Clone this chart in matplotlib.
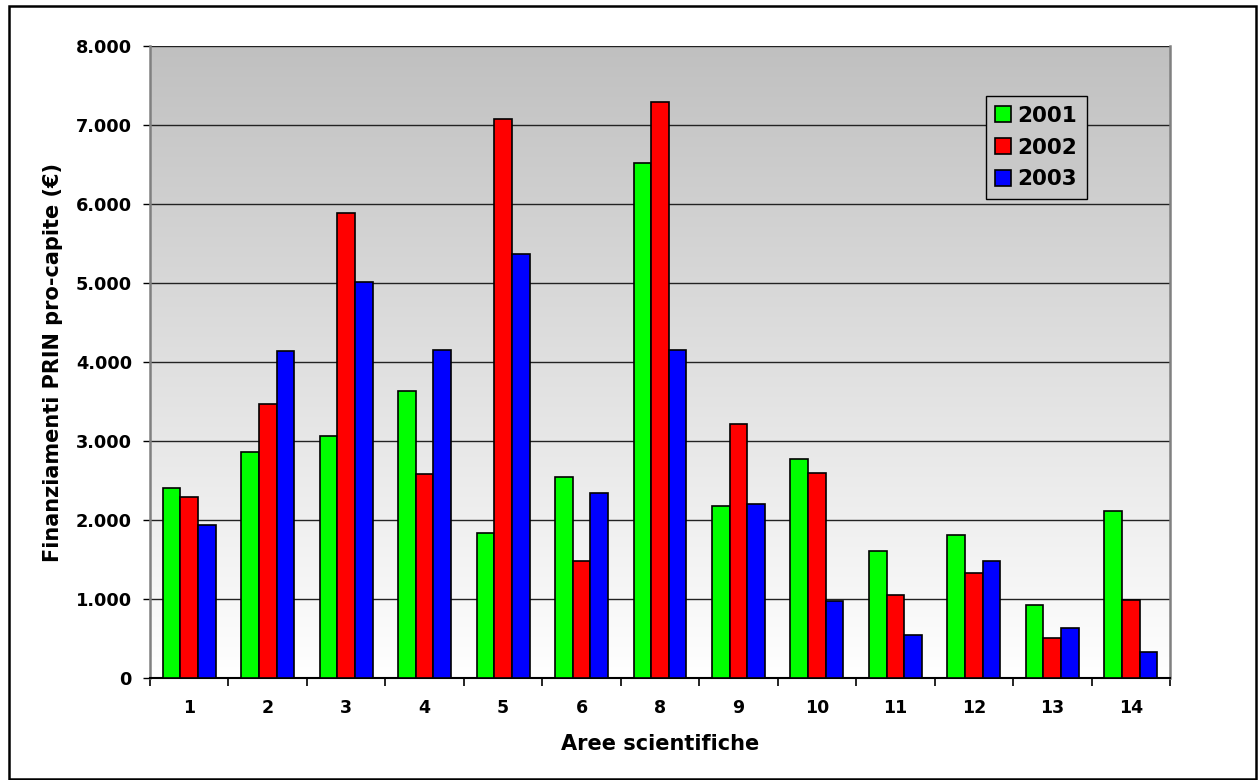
import numpy as np
import matplotlib
matplotlib.use("Agg")
import matplotlib.pyplot as plt
from matplotlib.patches import Rectangle
from matplotlib.colors import LinearSegmentedColormap

# Per-capita PRIN funding by scientific area
areas = ["1", "2", "3", "4", "5", "6", "8", "9", "10", "11", "12", "13", "14"]
fund_2001 = [2400, 2856, 3068, 3637, 1832, 2546, 6525, 2178, 2773, 1604, 1807, 926, 2110]
fund_2002 = [2287, 3472, 5889, 2583, 7074, 1476, 7285, 3214, 2596, 1052, 1335, 504, 993]
fund_2003 = [1933, 4139, 5016, 4155, 5370, 2338, 4153, 2197, 977, 550, 1478, 635, 327]
years = ["2001", "2002", "2003"]
colors = ["#00FF00", "#FF0000", "#0000FF"]
y_ticks = [0, 1000, 2000, 3000, 4000, 5000, 6000, 7000, 8000]
y_ticklabels = ["0", "1.000", "2.000", "3.000", "4.000", "5.000", "6.000", "7.000", "8.000"]

W, H = 1258, 780
fig = plt.figure(figsize=(W / 100, H / 100), dpi=100)
fig.patch.set_facecolor("white")

ax = fig.add_axes([150 / W, 1 - 678 / H, (1170 - 150) / W, (678 - 46) / H])

n = len(areas)
x = np.arange(n)
ymax = 8000

# gradient background: grey at the top fading to white at the base
cmap = LinearSegmentedColormap.from_list("bg", ["#FFFFFF", "#C0C0C0"])
grad = np.linspace(0, 1, 256).reshape(-1, 1)
ax.imshow(grad, cmap=cmap, aspect="auto", origin="lower",
          extent=[-0.5, n - 0.5, 0, ymax], zorder=0)

# horizontal gridlines
for t in y_ticks[1:]:
    ax.axhline(t, color="#222222", lw=1.0, zorder=1)

bw = 0.225
series = [fund_2001, fund_2002, fund_2003]
for i, (vals, c, lab) in enumerate(zip(series, colors, years)):
    ax.bar(x + (i - 1) * bw, vals, width=bw, color=c, edgecolor="black",
           linewidth=1.2, label=lab, zorder=3)

ax.set_xlim(-0.5, n - 0.5)
ax.set_ylim(0, ymax)

ax.set_yticks(y_ticks)
ax.set_yticklabels(y_ticklabels, fontsize=12.8, fontweight="bold")
ax.set_xticks(x)
ax.set_xticklabels(areas, fontsize=12.5, fontweight="bold")
ax.tick_params(axis="x", which="major", length=0, pad=15)
ax.set_xticks(np.arange(-0.5, n, 1.0), minor=True)
ax.tick_params(axis="x", which="minor", length=6, direction="out", width=1.2)
ax.tick_params(axis="y", length=5, direction="out", width=1.0, pad=8)

for s in ["left", "right", "top"]:
    ax.spines[s].set_color("#808080")
    ax.spines[s].set_linewidth(1.8)
ax.spines["top"].set_visible(False)
ax.spines["bottom"].set_color("black")
ax.spines["bottom"].set_linewidth(1.5)

ax.set_xlabel("Aree scientifiche", fontsize=15, fontweight="bold", labelpad=12)
ax.set_ylabel("Finanziamenti PRIN pro-capite (€)", fontsize=15,
              fontweight="bold", labelpad=9)

leg = ax.legend(loc="upper left", bbox_to_anchor=(985.7 / W, 1 - 96 / H),
                bbox_transform=fig.transFigure, borderaxespad=0,
                prop={"size": 15.5, "weight": "bold"}, frameon=True,
                fancybox=False, handlelength=0.72, handleheight=0.72,
                handletextpad=0.3, labelspacing=0.55, borderpad=0.45)
leg.get_frame().set_facecolor("#C8C8C8")
leg.get_frame().set_edgecolor("black")
leg.get_frame().set_linewidth(1.0)
leg.get_frame().set_alpha(1)
leg.set_zorder(5)

# outer border of the figure
fig.patches.append(Rectangle((9 / W, 1 / H), (1256 - 9) / W, (774 - 1) / H,
                             transform=fig.transFigure, fill=False,
                             edgecolor="black", linewidth=1.8))

fig.savefig("out.png", dpi=100)
